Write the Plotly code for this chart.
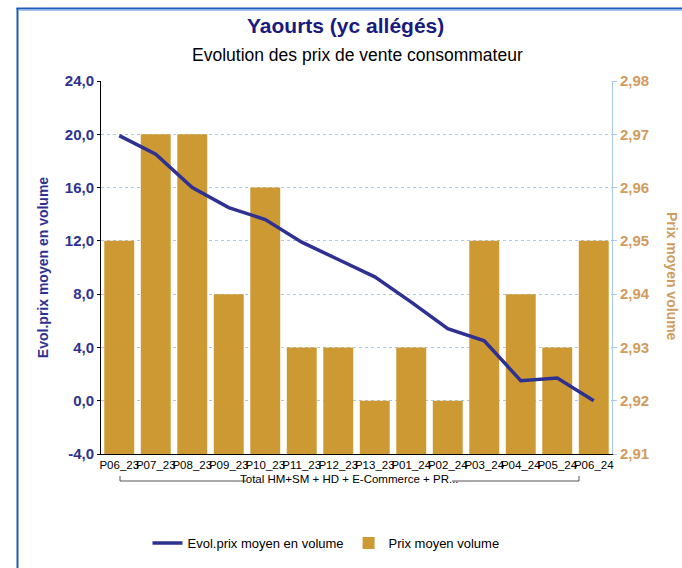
import plotly.graph_objects as go

categories = ["P06_23", "P07_23", "P08_23", "P09_23", "P10_23", "P11_23", "P12_23",
              "P13_23", "P01_24", "P02_24", "P03_24", "P04_24", "P05_24", "P06_24"]
evol_prix = [19.9, 18.5, 16.0, 14.5, 13.6, 11.9, 10.6, 9.3, 7.4, 5.4, 4.5, 1.5, 1.7, 0.0]
prix_moyen = [2.95, 2.97, 2.97, 2.94, 2.96, 2.93, 2.93, 2.92, 2.93, 2.92, 2.95, 2.94, 2.93, 2.95]
left_ticks = [-4, 0, 4, 8, 12, 16, 20, 24]
right_ticks = [2.91, 2.92, 2.93, 2.94, 2.95, 2.96, 2.97, 2.98]
group_label = "Total HM+SM + HD + E-Commerce + PR..."

left_text = ["<b>" + f"{v:.1f}".replace(".", ",") + "</b>" for v in left_ticks]
right_text = ["<b>" + f"{v:.2f}".replace(".", ",") + "</b>" for v in right_ticks]

W, H = 682, 568
L, R, T, B = 101, 70, 81, 114
PW, PH = W - L - R, H - T - B

def px(x):
    return (x - L) / PW

def py(y):
    return (H - B - y) / PH

LEFT_C = "#2e3192"
RIGHT_C = "#d09c5e"
BAR_C = "#cc9933"
FONT = "Liberation Sans"

fig = go.Figure()
fig.add_trace(go.Bar(x=categories, y=prix_moyen, name="Prix moyen volume",
                     marker=dict(color=BAR_C, line=dict(width=0)), yaxis="y"))
fig.add_trace(go.Scatter(x=categories, y=evol_prix, name="Evol.prix moyen en volume",
                         mode="lines", line=dict(color=LEFT_C, width=3.5), yaxis="y2"))

fig.update_layout(
    width=W, height=H,
    margin=dict(l=L, r=R, t=T, b=B, autoexpand=False),
    paper_bgcolor="white", plot_bgcolor="white",
    separators=", ",
    bargap=0.18,
    font=dict(family=FONT, size=12, color="black"),
    showlegend=True,
    legend=dict(orientation="h", x=px(326), xanchor="center", y=py(543), yanchor="middle",
                font=dict(size=13, color="black"), traceorder="reversed",
                itemwidth=30, bgcolor="rgba(0,0,0,0)"),
    xaxis=dict(type="category", showline=True, linecolor="black", linewidth=1,
               showgrid=False, ticks="", tickangle=0,
               tickfont=dict(size=11.5, color="black", family=FONT)),
    yaxis=dict(side="right", range=[2.91, 2.98], tickvals=right_ticks, ticktext=right_text,
               showgrid=True, gridcolor="#a9c8ea", griddash="dot", gridwidth=1,
               showline=True, linecolor="#a9c8ea", linewidth=1,
               ticks="outside", ticklen=4, tickcolor="#a9c8ea",
               tickfont=dict(size=15, color=RIGHT_C, family=FONT),
               zeroline=False),
    yaxis2=dict(side="left", overlaying="y", range=[-4, 24], tickvals=left_ticks,
                ticktext=left_text, showgrid=False, zeroline=False,
                showline=True, linecolor="black", linewidth=1,
                ticks="outside", ticklen=3, tickcolor="black",
                tickfont=dict(size=15, color=LEFT_C, family=FONT),
                title=dict(text="<b>Evol.prix moyen en volume</b>", standoff=12,
                           font=dict(size=14, color=LEFT_C, family=FONT))),
)

annotations = [
    dict(text="<b>Yaourts (yc allégés)</b>", x=px(345), y=py(26), xref="paper", yref="paper",
         showarrow=False, xanchor="center", yanchor="middle",
         font=dict(size=21, color="#1a1a80", family=FONT)),
    dict(text="Evolution des prix de vente consommateur", x=px(357), y=py(55),
         xref="paper", yref="paper", showarrow=False, xanchor="center", yanchor="middle",
         font=dict(size=17.5, color="black", family=FONT)),
    dict(text="<b>Prix moyen volume</b>", x=px(672), y=py(276), xref="paper", yref="paper",
         showarrow=False, xanchor="center", yanchor="middle", textangle=90,
         font=dict(size=14, color=RIGHT_C, family=FONT)),
    dict(text=group_label, x=px(349), y=py(479), xref="paper", yref="paper",
         showarrow=False, xanchor="center", yanchor="middle",
         font=dict(size=11.5, color="black", family=FONT)),
]
fig.update_layout(annotations=annotations)

brk = dict(color="#555555", width=1)
shapes = [
    # bracket under categories
    dict(type="line", xref="paper", yref="paper", x0=px(120), x1=px(246), y0=py(481), y1=py(481), line=brk),
    dict(type="line", xref="paper", yref="paper", x0=px(452), x1=px(579), y0=py(481), y1=py(481), line=brk),
    dict(type="line", xref="paper", yref="paper", x0=px(120), x1=px(120), y0=py(481), y1=py(476), line=brk),
    dict(type="line", xref="paper", yref="paper", x0=px(579), x1=px(579), y0=py(481), y1=py(476), line=brk),
    # frame border
    dict(type="line", xref="paper", yref="paper", x0=px(17.5), x1=px(17.5), y0=py(8), y1=py(570),
         line=dict(color="#1f5cb8", width=2)),
    dict(type="line", xref="paper", yref="paper", x0=px(16.5), x1=px(684), y0=py(8.5), y1=py(8.5),
         line=dict(color="#1f5cb8", width=2)),
    dict(type="line", xref="paper", yref="paper", x0=px(18.5), x1=px(684), y0=py(10.2), y1=py(10.2),
         line=dict(color="#7fb0e8", width=1)),
]
fig.update_layout(shapes=shapes)

fig.write_html("out.html", config={"displayModeBar": False},
               post_script="document.body.style.margin='0';document.body.style.overflow='hidden';")
